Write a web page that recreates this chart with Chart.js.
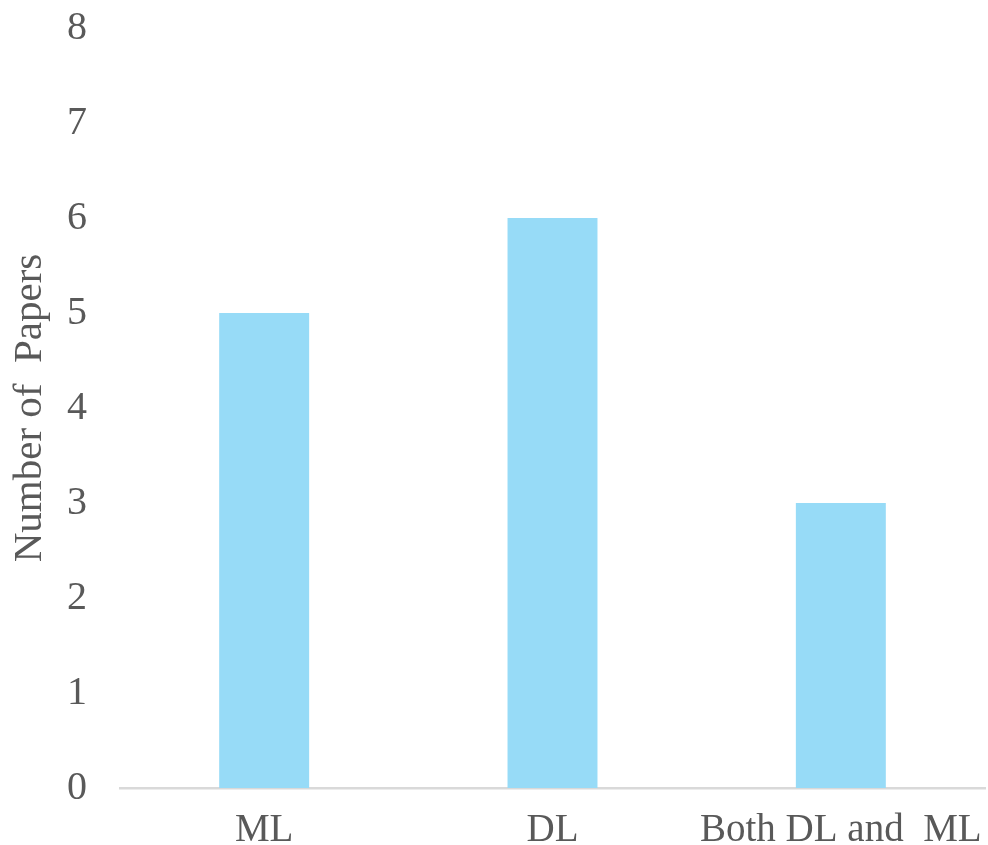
<!DOCTYPE html>
<html>
<head>
<meta charset="utf-8">
<script src="https://cdn.jsdelivr.net/npm/chart.js@4/dist/chart.umd.min.js"></script>
<style>
  html, body { margin: 0; padding: 0; background: #ffffff; }
  #wrap { width: 988px; height: 845px; position: relative; }
</style>
</head>
<body>
<div id="wrap"><canvas id="chart"></canvas></div>
<script>
// Paper counts per method family
const categories = ['ML', 'DL', 'Both DL and  ML'];
const paperCounts = [5, 6, 3];
const yTicks = [0, 1, 2, 3, 4, 5, 6, 7, 8];

const textColor = '#595959';
const fontFamily = '"Liberation Serif", "Times New Roman", serif';

new Chart(document.getElementById('chart'), {
  type: 'bar',
  data: {
    labels: categories,
    datasets: [{
      label: 'Number of Papers',
      data: paperCounts,
      backgroundColor: '#97DBF7',
      borderWidth: 0,
      categoryPercentage: 1,
      barPercentage: 0.312
    }]
  },
  options: {
    responsive: true,
    maintainAspectRatio: false,
    animation: false,
    layout: { padding: { top: 28, right: 3, left: 0, bottom: 0 } },
    plugins: {
      legend: { display: false },
      tooltip: { enabled: false }
    },
    scales: {
      x: {
        grid: { display: false, drawTicks: false },
        border: { display: true, color: '#D9D9D9', width: 2.5 },
        ticks: {
          color: textColor,
          font: { family: fontFamily, size: 39 },
          padding: 19,
          maxRotation: 0,
          autoSkip: false
        },
        afterFit: (scale) => {
          scale.height = 57;
          scale.paddingLeft = 0;
          scale.paddingRight = 0;
        }
      },
      y: {
        min: yTicks[0],
        max: yTicks[yTicks.length - 1],
        grid: { display: false, drawTicks: false },
        border: { display: false },
        afterBuildTicks: (scale) => { scale.ticks = yTicks.map(v => ({ value: v })); },
        ticks: {
          color: textColor,
          font: { family: fontFamily, size: 40 },
          padding: 33
        },
        title: {
          display: true,
          text: 'Number of  Papers',
          color: textColor,
          font: { family: fontFamily, size: 41, weight: 'normal' },
          padding: { top: 6, bottom: 0 }
        },
        afterFit: (scale) => {
          scale.width = 120;
          scale.paddingTop = 0;
          scale.paddingBottom = 0;
        }
      }
    }
  }
});
</script>
</body>
</html>
